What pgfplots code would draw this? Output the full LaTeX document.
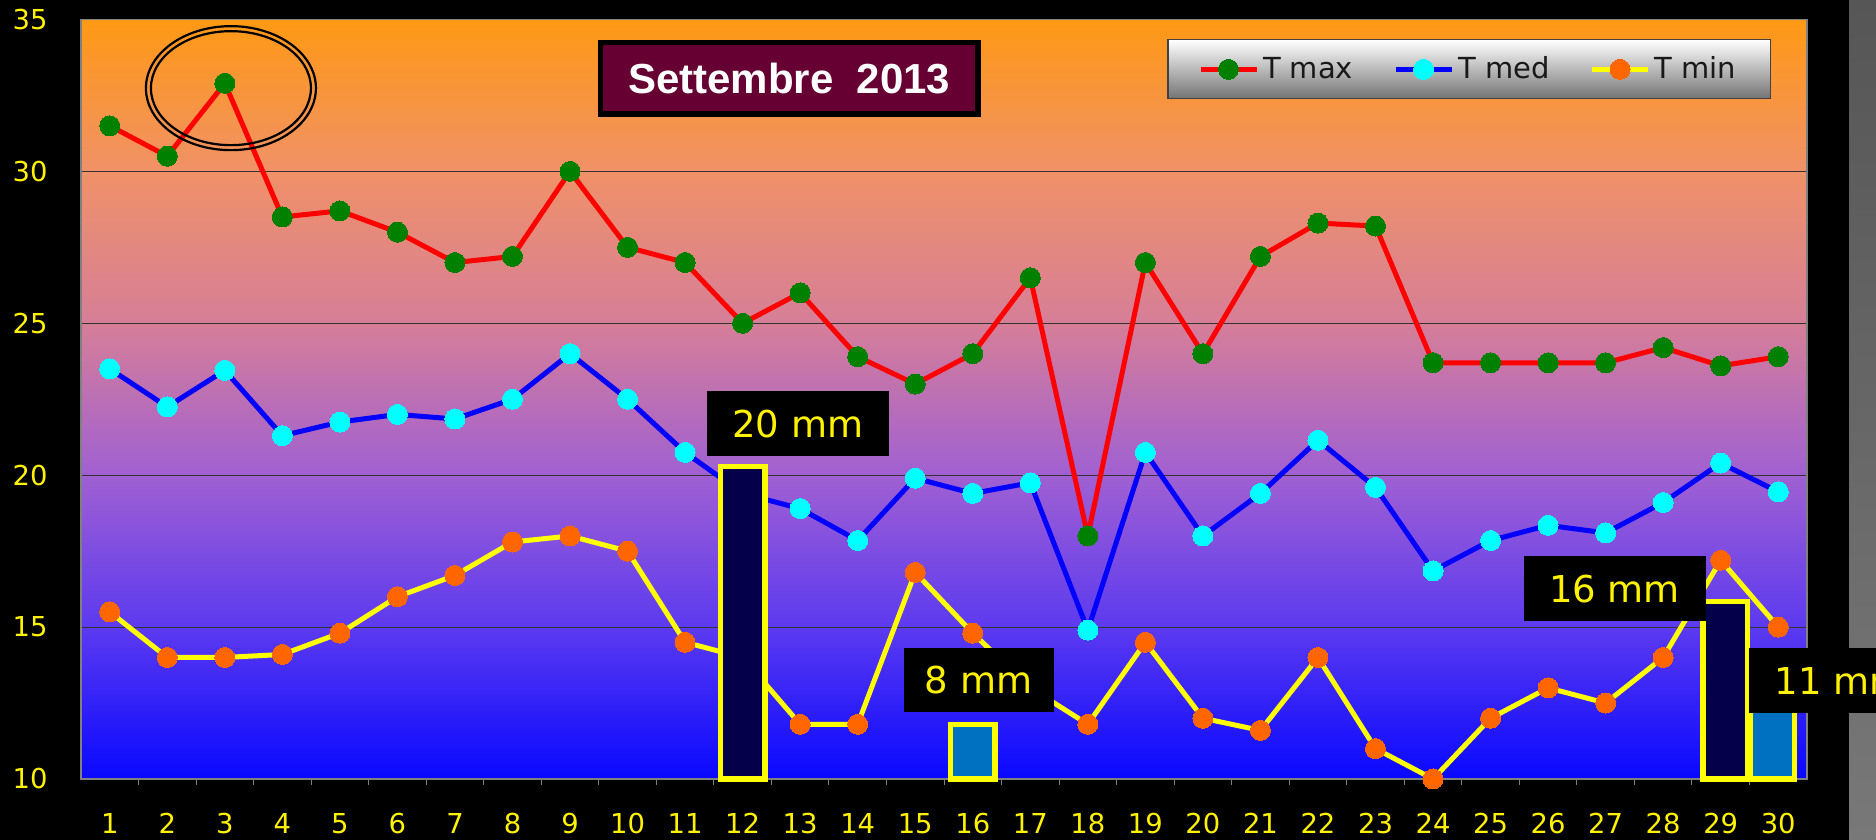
\documentclass[border=0pt]{standalone}
\usepackage{fontspec}
\setmainfont{DejaVu Sans}
\newfontfamily\titlefont{Liberation Sans}
\usepackage{pgfplots}
\pgfplotsset{compat=1.18}

\definecolor{cA}{RGB}{255,153,20}
\definecolor{cB}{RGB}{240,145,104}
\definecolor{cC}{RGB}{214,126,152}
\definecolor{cD}{RGB}{160,96,210}
\definecolor{cE}{RGB}{92,58,240}
\definecolor{cF}{RGB}{8,8,255}
\definecolor{tmaxline}{RGB}{255,0,0}
\definecolor{tmaxmark}{RGB}{0,128,0}
\definecolor{tmedline}{RGB}{0,0,255}
\definecolor{tmedmark}{RGB}{0,255,255}
\definecolor{tminline}{RGB}{255,255,0}
\definecolor{tminmark}{RGB}{255,102,0}
\definecolor{navybar}{RGB}{4,0,74}
\definecolor{steelbar}{RGB}{0,112,192}
\definecolor{titlered}{RGB}{102,0,51}
\definecolor{stripT}{RGB}{86,86,86}
\definecolor{stripB}{RGB}{120,120,120}

\pgfdeclareverticalshading{plotbg}{100bp}{color(0bp)=(cF); color(25bp)=(cF); color(35bp)=(cE); color(45bp)=(cD); color(55bp)=(cC); color(65bp)=(cB); color(75bp)=(cA); color(100bp)=(cA)}

\pgfplotstableread{
x tmax tmed tmin
1 31.5 23.5 15.5
2 30.5 22.25 14.0
3 32.9 23.45 14.0
4 28.5 21.3 14.1
5 28.7 21.75 14.8
6 28.0 22.0 16.0
7 27.0 21.85 16.7
8 27.2 22.5 17.8
9 30.0 24.0 18.0
10 27.5 22.5 17.5
11 27.0 20.75 14.5
12 25.0 19.4 14.0
13 26.0 18.9 11.8
14 23.9 17.85 11.8
15 23.0 19.9 16.8
16 24.0 19.4 14.8
17 26.5 19.75 13.0
18 18.0 14.9 11.8
19 27.0 20.75 14.5
20 24.0 18.0 12.0
21 27.2 19.4 11.6
22 28.3 21.15 14.0
23 28.2 19.6 11.0
24 23.7 16.85 10.0
25 23.7 17.85 12.0
26 23.7 18.35 13.0
27 23.7 18.1 12.5
28 24.2 19.1 14.0
29 23.6 20.4 17.2
30 23.9 19.45 15.0
}\temps

\begin{document}
\begin{tikzpicture}[x=1pt,y=1pt]
\useasboundingbox (0,0) rectangle (938,420);
\clip (0,0) rectangle (938,420);
\fill[black] (0,0) rectangle (938,420);
\shade[top color=stripT, bottom color=stripB] (924.5,0) rectangle (938,420);
\shade[shading=plotbg] (40.5,30.5) rectangle (903.5,410.25);

\begin{axis}[
  at={(40.5pt,30.5pt)}, anchor=south west,
  scale only axis, width=863pt, height=379.75pt,
  xmin=0.5, xmax=30.5, ymin=10, ymax=35,
  clip=false,
  axis line style={draw=gray, line width=0.6pt},
  xtick={1,...,30}, ytick={10,15,...,35},
  minor xtick={1.5,2.5,...,29.5},
  tick pos=left, tick align=outside,
  major tick length=0pt, minor tick length=3pt,
  minor tick style={gray, line width=0.5pt},
  ymajorgrids, grid style={black!80, line width=0.5pt},
  /pgf/number format/assume math mode=true,
  ticklabel style={font=\fontsize{13.7}{16}\selectfont, text=yellow},
  yticklabel style={anchor=east, inner sep=0pt, xshift=-16.5pt},
  xticklabel style={anchor=north, inner sep=0pt, yshift=-17pt},
  legend columns=3,
  legend cell align=left,
  legend image code/.code={\draw[#1, mark repeat=2, mark phase=2] plot coordinates {(0pt,0pt) (14pt,0pt) (28pt,0pt)};},
  legend style={at={(0.979,0.974)}, anchor=north east,
    draw=black!75, line width=0.6pt,
    top color=white, bottom color=black!55,
    inner xsep=15pt, inner ysep=8.5pt,
    font=\fontsize{14.5}{17}\selectfont, text=black!90,
    nodes={inner xsep=2pt, inner ysep=0pt},
    /tikz/every even column/.append style={column sep=18pt}},
]
\addplot[tmaxline, line width=2.5pt, mark=*, mark size=5pt, mark options={fill=tmaxmark, draw=tmaxmark, line width=0pt}] table[x=x, y=tmax] {\temps};
\addlegendentry{T max}
\addplot[tmedline, line width=2.5pt, mark=*, mark size=5pt, mark options={fill=tmedmark, draw=tmedmark, line width=0pt}] table[x=x, y=tmed] {\temps};
\addlegendentry{T med}
\addplot[tminline, line width=2.5pt, mark=*, mark size=5pt, mark options={fill=tminmark, draw=tminmark, line width=0pt}] table[x=x, y=tmin] {\temps};
\addlegendentry{T min}

\draw[black, line width=1.1pt] (axis cs:3.106,32.74) ellipse [x radius=42.5pt, y radius=31pt];
\draw[black, line width=1.1pt] (axis cs:3.106,32.74) ellipse [x radius=40pt, y radius=28.5pt];

\node[draw=black, line width=2.75pt, fill=titlered, minimum width=188.75pt, minimum height=35.75pt, inner sep=0pt, text=white, font=\titlefont\bfseries\fontsize{21}{24}\selectfont] at (axis cs:12.81,33.06) {Settembre\ \ 2013};
\end{axis}

\begin{axis}[
  at={(40.5pt,30.5pt)}, anchor=south west,
  scale only axis, width=863pt, height=379.75pt,
  xmin=0.5, xmax=30.5, ymin=0.13, ymax=25.13,
  clip=false, hide axis,
]
\addplot[ybar, bar width=0.773, bar shift=0pt, fill=navybar, draw=tminline, line width=2.75pt] coordinates {(12,10.41) (29.08,5.97)};
\addplot[ybar, bar width=0.773, bar shift=0pt, fill=steelbar, draw=tminline, line width=2.75pt] coordinates {(16,1.93) (29.9,3.0)};

\node[fill=black, text=yellow, minimum width=91pt, minimum height=32.5pt, inner sep=0pt, font=\fontsize{18.5}{22}\selectfont] at (axis cs:12.96,11.83) {20 mm};
\node[fill=black, text=yellow, minimum width=75pt, minimum height=32pt, inner sep=0pt, font=\fontsize{18.5}{22}\selectfont] at (axis cs:16.10,3.39) {8 mm};
\node[fill=black, text=yellow, minimum width=91pt, minimum height=32.5pt, inner sep=0pt, font=\fontsize{18.5}{22}\selectfont] at (axis cs:27.155,6.39) {16 mm};
\node[fill=black, text=yellow, minimum width=91pt, minimum height=32.5pt, inner sep=0pt, font=\fontsize{18.5}{22}\selectfont] at (axis cs:31.08,3.37) {11 mm};
\end{axis}
\end{tikzpicture}
\end{document}
